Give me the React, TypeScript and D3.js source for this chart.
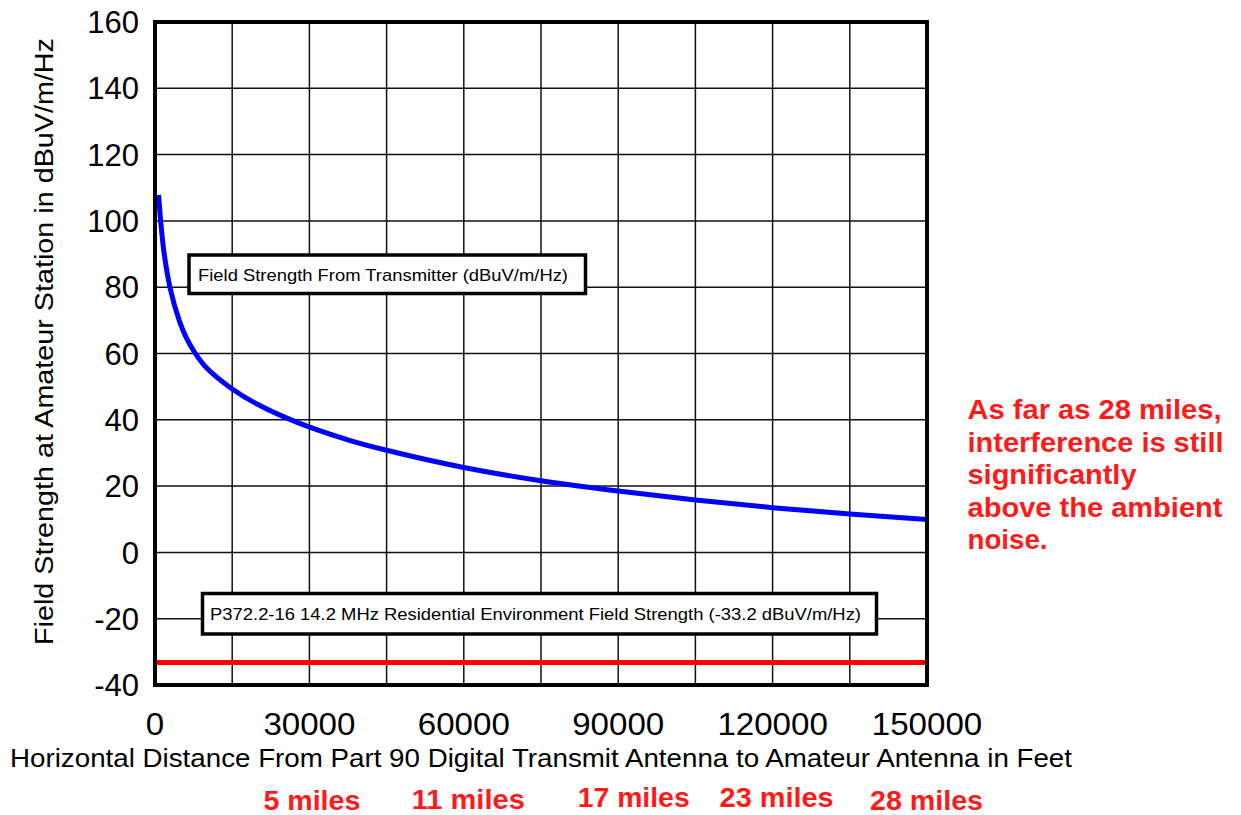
import { useMemo } from "react";
import * as d3 from "d3";

// distance in feet vs field strength (dBuV/m/Hz)
const distances = [700, 1100, 1750, 2900, 4700, 6000, 7760, 10000, 15000, 20000, 27500, 37800, 45000, 60000, 75000, 90000, 105000, 120000, 135000, 150000];
const fieldStrength = [107.8, 100, 90.5, 80, 70, 65, 60.2, 55.7, 49.3, 44.6, 39.3, 33.8, 30.8, 25.6, 21.6, 18.5, 15.8, 13.5, 11.6, 9.9];
const ambientNoise = -33.2;

const xTicks = [0, 30000, 60000, 90000, 120000, 150000];
const yTicks = [-40, -20, 0, 20, 40, 60, 80, 100, 120, 140, 160];
const mileLabels = ["5 miles", "11 miles", "17 miles", "23 miles", "28 miles"];
// label placement under the ticks 30000..150000
const mileLayout = [
  { dx: 2.5, y: 809.5, w: 97 },
  { dx: 4.5, y: 808.5, w: 113 },
  { dx: 15.5, y: 806.5, w: 112 },
  { dx: 4, y: 806.5, w: 114 },
  { dx: -0.5, y: 809.5, w: 113 },
];
const noteLines = [
  "As far as 28 miles,",
  "interference is still",
  "significantly",
  "above the ambient",
  "noise.",
];
const noteWidths = [254, 256, 169, 255, 80];

const W = 1241;
const H = 815;
const LEFT = 155;
const RIGHT = 927;
const TOP = 22;
const BOTTOM = 685;
const FONT = "'Liberation Sans', Arial, Helvetica, sans-serif";
const RED = "#ff1a1a";

const App = () => {
  const x = d3.scaleLinear().domain([0, 150000]).range([LEFT, RIGHT]);
  const y = d3.scaleLinear().domain([-40, 160]).range([BOTTOM, TOP]);

  const xGrid = d3.range(0, 150001, 15000);
  const yGrid = d3.range(-40, 161, 20);

  const path = useMemo(() => {
    const line = d3
      .line<number>()
      .x((d, i) => x(distances[i]))
      .y((d) => y(d))
      .curve(d3.curveCatmullRom.alpha(0.5));
    return line(fieldStrength) || "";
  }, []);

  return (
    <svg
      width={W}
      height={H}
      style={{ position: "absolute", left: 0, top: 0, background: "#fff" }}
      fontFamily={FONT}
    >
      <defs>
        <clipPath id="plot">
          <rect x={LEFT} y={TOP} width={RIGHT - LEFT} height={BOTTOM - TOP} />
        </clipPath>
      </defs>
      <g stroke="#111" strokeWidth={1.5}>
        {xGrid.map((v) => (
          <line key={"x" + v} x1={x(v)} x2={x(v)} y1={TOP} y2={BOTTOM} />
        ))}
        {yGrid.map((v) => (
          <line key={"y" + v} x1={LEFT} x2={RIGHT} y1={y(v)} y2={y(v)} />
        ))}
      </g>

      <g clipPath="url(#plot)">
        <line
          x1={x(0)}
          x2={x(150000)}
          y1={y(ambientNoise)}
          y2={y(ambientNoise)}
          stroke="#ff0000"
          strokeWidth={5}
        />
        <path d={path} fill="none" stroke="#0000ff" strokeWidth={5} />
      </g>

      <rect
        x={LEFT}
        y={TOP}
        width={RIGHT - LEFT}
        height={BOTTOM - TOP}
        fill="none"
        stroke="#000"
        strokeWidth={4}
      />

      {/* annotation boxes */}
      <rect x={189} y={255} width={396.5} height={38.5} fill="#fff" stroke="#000" strokeWidth={3.5} />
      <text x={198} y={280.5} fontSize={17} textLength={370} lengthAdjust="spacingAndGlyphs">
        Field Strength From Transmitter (dBuV/m/Hz)
      </text>
      <rect x={202.5} y={593.5} width={674} height={40.5} fill="#fff" stroke="#000" strokeWidth={3.5} />
      <text x={210} y={620} fontSize={17} textLength={651} lengthAdjust="spacingAndGlyphs">
        P372.2-16 14.2 MHz Residential Environment Field Strength (-33.2 dBuV/m/Hz)
      </text>

      {/* y ticks */}
      {yTicks.map((v) => (
        <text key={v} x={139} y={y(v)} dy="0.36em" textAnchor="end" fontSize={31}>
          {v}
        </text>
      ))}
      {/* x ticks */}
      {xTicks.map((v) => (
        <text
          key={v}
          x={x(v)}
          y={735}
          textAnchor="middle"
          fontSize={31}
          textLength={String(v).length * 18.4}
          lengthAdjust="spacingAndGlyphs"
        >
          {v}
        </text>
      ))}

      <text
        x={(LEFT + RIGHT) / 2}
        y={767}
        textAnchor="middle"
        fontSize={25}
        textLength={1062}
        lengthAdjust="spacingAndGlyphs"
      >
        Horizontal Distance From Part 90 Digital Transmit Antenna to Amateur Antenna in Feet
      </text>
      <text
        transform={`translate(53, 341.5) rotate(-90)`}
        textAnchor="middle"
        fontSize={25}
        textLength={607}
        lengthAdjust="spacingAndGlyphs"
      >
        Field Strength at Amateur Station in dBuV/m/Hz
      </text>

      {mileLabels.map((m, i) => (
        <text
          key={m}
          x={x(xTicks[i + 1]) + mileLayout[i].dx}
          y={mileLayout[i].y}
          textAnchor="middle"
          fontSize={27}
          fontWeight="bold"
          fill={RED}
          textLength={mileLayout[i].w}
          lengthAdjust="spacingAndGlyphs"
        >
          {m}
        </text>
      ))}

      {noteLines.map((t, i) => (
        <text
          key={t}
          x={967.5}
          y={419 + i * 32.6}
          fontSize={27}
          fontWeight="bold"
          fill={RED}
          textLength={noteWidths[i]}
          lengthAdjust="spacingAndGlyphs"
        >
          {t}
        </text>
      ))}
    </svg>
  );
};

export default App;
